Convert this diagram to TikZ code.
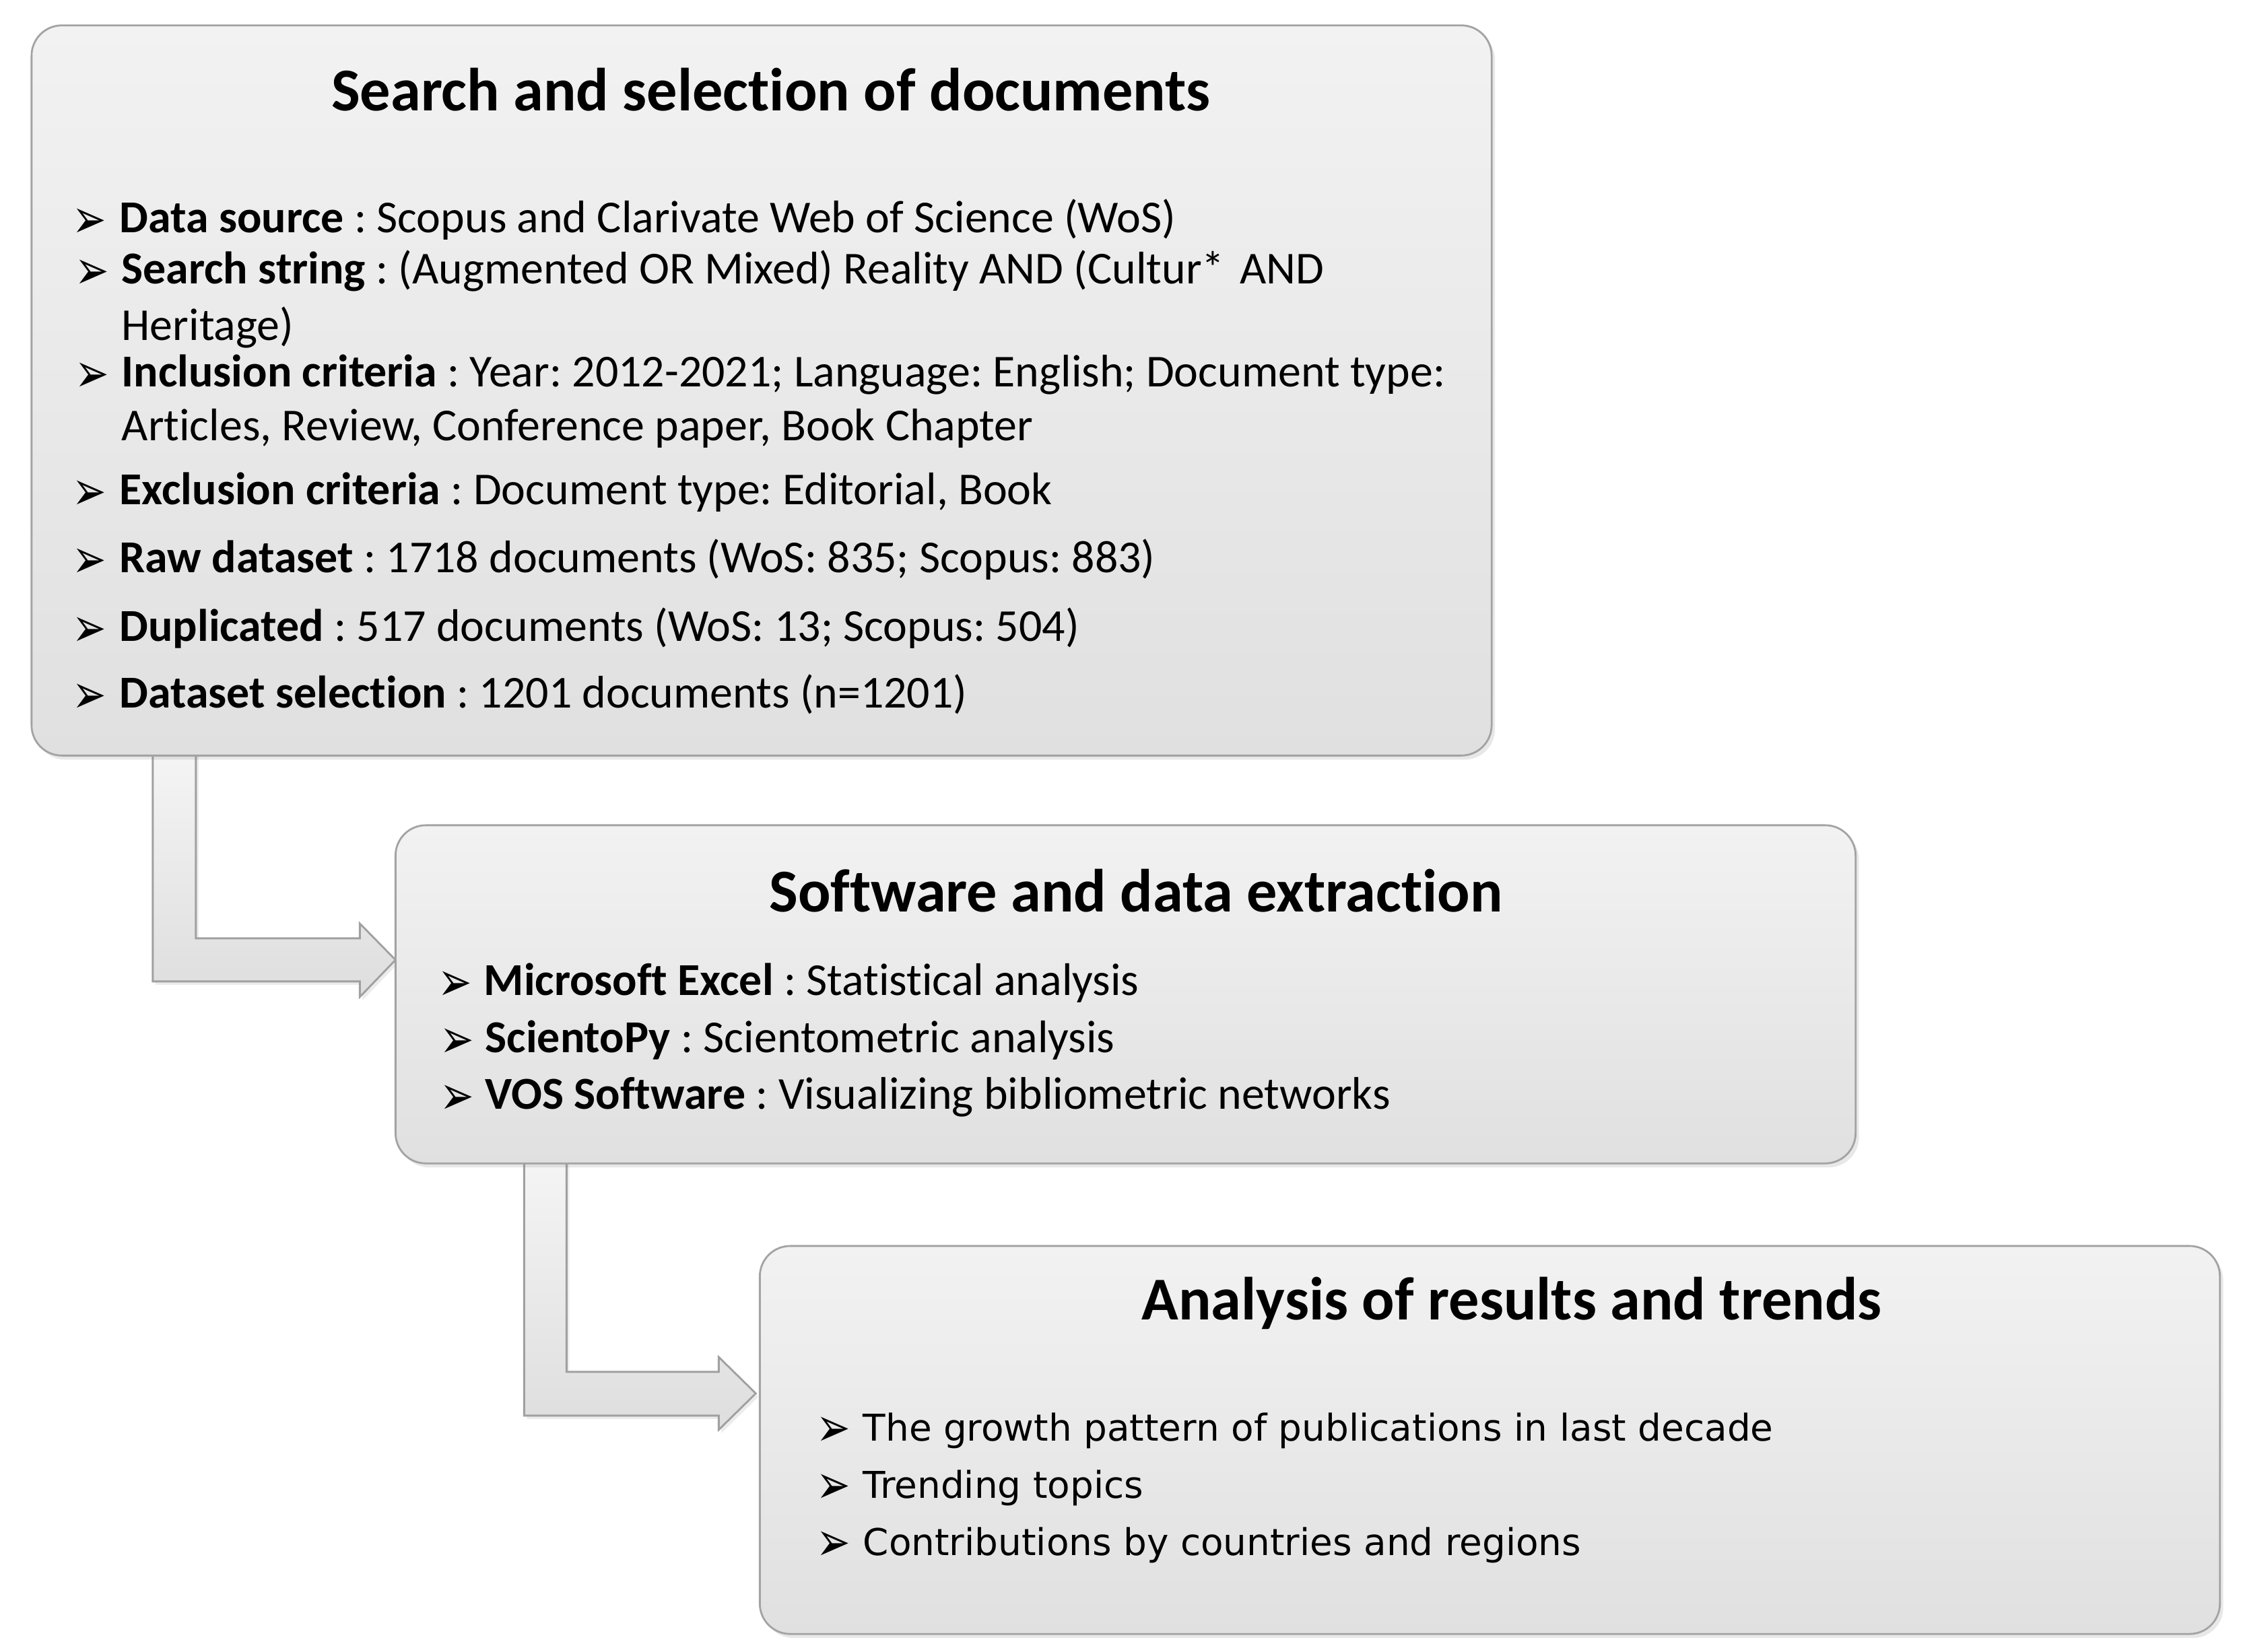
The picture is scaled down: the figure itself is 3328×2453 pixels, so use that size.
\documentclass[tikz,border=0pt]{standalone}
\usepackage{fontspec}
\setmainfont{Carlito}[Ligatures=NoCommon]
\newfontfamily\dejavu{DejaVu Sans}
\usetikzlibrary{calc,backgrounds,shadows}
\definecolor{boxline}{HTML}{A3A3A3}
\definecolor{boxtop}{HTML}{F2F2F2}
\definecolor{boxbot}{HTML}{E0E0E0}
\definecolor{arrline}{HTML}{A0A0A0}
\frenchspacing
\newcommand{\arrbul}{\scalebox{1}[1.35]{➢}}
\tikzset{
  panel/.style={draw=boxline, line width=0.8pt, rounded corners=0.45cm,
    top color=boxtop, bottom color=boxbot, minimum width=21.67cm,
    inner sep=0pt, outer sep=0pt,
    drop shadow={opacity=0.18, shadow xshift=0.05cm, shadow yshift=-0.06cm}},
  paneltitle/.style={anchor=base, inner sep=0pt, font=\fontsize{25.7pt}{30pt}\selectfont\bfseries},
  bodytext/.style={anchor=base west, inner sep=0pt, font=\fontsize{19.3pt}{23pt}\selectfont},
  plaintext/.style={anchor=base west, inner sep=0pt, font=\dejavu\fontsize{15.6pt}{19pt}\selectfont},
  bullet/.style={anchor=base west, inner sep=0pt, yshift=-0.08cm, font=\dejavu\fontsize{17.2pt}{20pt}\selectfont},
  bentarrow/.style={draw=arrline, line width=0.8pt, top color=white!96!black, bottom color=white!87!black,
    drop shadow={opacity=0.15, shadow xshift=0.04cm, shadow yshift=-0.05cm}}
}
\begin{document}
\begin{tikzpicture}[x=0.01cm,y=-0.01cm]
\useasboundingbox (0,0) rectangle (3328,2453);
% panels
\node[panel, minimum height=10.84cm] (b1) at (1131,580) {};
\node[panel, minimum height=5.02cm] (b2) at (1671.5,1477) {};
\node[panel, minimum height=5.76cm] (b3) at (2212.5,2139) {};
% titles
\node[paneltitle] (t1) at (1145,164) {Search and selection of documents};
\node[paneltitle] (t2) at (1687,1354) {Software and data extraction};
\node[paneltitle] (t3) at (2245,1960) {Analysis of results and trends};
% box 1 bullets
\node[bullet] (u1) at (107,345) {\arrbul};
\node[bodytext] (l1) at (177,345) {\textbf{Data source} : Scopus and Clarivate Web of Science (WoS)};
\node[bullet] (u2) at (111,421) {\arrbul};
\node[bodytext] (l2) at (180,421) {\textbf{Search string} : (Augmented OR Mixed) Reality AND (Cultur*\hspace{2pt} AND};
\node[bodytext] (l2b) at (180,505) {Heritage)};
\node[bullet] (u3) at (111,574) {\arrbul};
\node[bodytext] (l3) at (180,574) {\textbf{Inclusion criteria} : Year: 2012-2021; Language: English; Document type:};
\node[bodytext] (l3b) at (180,654) {Articles, Review, Conference paper, Book Chapter};
\node[bullet] (u4) at (107,749) {\arrbul};
\node[bodytext] (l4) at (177,749) {\textbf{Exclusion criteria} : Document type: Editorial, Book};
\node[bullet] (u5) at (107,850) {\arrbul};
\node[bodytext] (l5) at (177,850) {\textbf{Raw dataset} : 1718 documents (WoS: 835; Scopus: 883)};
\node[bullet] (u6) at (107,952) {\arrbul};
\node[bodytext] (l6) at (177,952) {\textbf{Duplicated} : 517 documents (WoS: 13; Scopus: 504)};
\node[bullet] (u7) at (107,1051) {\arrbul};
\node[bodytext] (l7) at (177,1051) {\textbf{Dataset selection} : 1201 documents (n=1201)};
% box 2 bullets
\node[bullet] (v1) at (650,1478) {\arrbul};
\node[bodytext] (m1) at (718,1478) {\textbf{Microsoft Excel} : Statistical analysis};
\node[bullet] (v2) at (653,1563) {\arrbul};
\node[bodytext] (m2) at (720,1563) {\textbf{ScientoPy} : Scientometric analysis};
\node[bullet] (v3) at (653,1647) {\arrbul};
\node[bodytext] (m3) at (720,1647) {\textbf{VOS Software} : Visualizing bibliometric networks};
% box 3 bullets
\node[bullet] (w1) at (1212,2140) {\arrbul};
\node[plaintext] (n1) at (1281,2140) {The growth pattern of publications in last decade};
\node[bullet] (w2) at (1212,2225) {\arrbul};
\node[plaintext] (n2) at (1281,2225) {Trending topics};
\node[bullet] (w3) at (1212,2310) {\arrbul};
\node[plaintext] (n3) at (1281,2310) {Contributions by countries and regions};
% bent arrows
\coordinate (a1top) at ($(b1.south west)+(180,-8)$);
\coordinate (a1tip) at ($(b2.north west)+(0,200)$);
\coordinate (a1b) at ($(a1tip)+(-53,32)$);
\coordinate (a2top) at ($(b2.south west)+(191,-8)$);
\coordinate (a2tip) at ($(b3.north west)+(-6,219)$);
\coordinate (a2b) at ($(a2tip)+(-55,33)$);
\begin{scope}[on background layer]
\draw[bentarrow] (a1top) -- ++(64,0) |- ($(a1tip)+(-53,-32)$) -- ++(0,-22) -- (a1tip)
  -- ($(a1tip)+(-53,55)$) -- (a1b) -- (a1top |- a1b) -- cycle;
\draw[bentarrow] (a2top) -- ++(63,0) |- ($(a2tip)+(-55,-32)$) -- ++(0,-22) -- (a2tip)
  -- ($(a2tip)+(-55,54)$) -- (a2b) -- (a2top |- a2b) -- cycle;
\end{scope}
\end{tikzpicture}
\end{document}
